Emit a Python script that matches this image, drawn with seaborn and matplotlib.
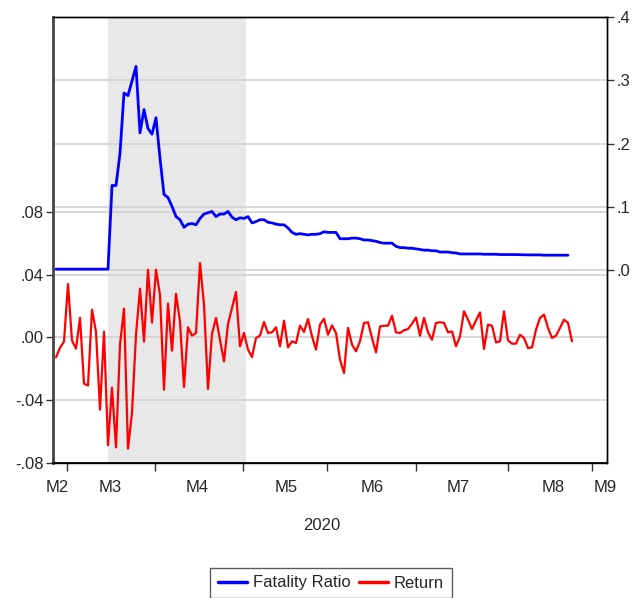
import numpy as np
import pandas as pd
import matplotlib
matplotlib.use("Agg")
import matplotlib.pyplot as plt
import matplotlib.transforms as mtransforms
import seaborn as sns

# ---------------- data ----------------
returns = [
    -0.0127, -0.0066, -0.0027, 0.034, -0.002, -0.0072, 0.0125, -0.0295, -0.0307, 0.0176,
    0.0036, -0.046, 0.0036, -0.0687, -0.032, -0.0701, -0.0046, 0.0183, -0.0709, -0.048,
    0.0017, 0.031, -0.0027, 0.0431, 0.0094, 0.0431, 0.027, -0.0333, 0.0215, -0.0085,
    0.0278, 0.010, -0.0316, 0.0064, 0.0011, 0.0028, 0.0474, 0.0208, -0.0329, 0.0022,
    0.0124, -0.0015, -0.0153, 0.0085, 0.0187, 0.0289, -0.0057, 0.0028, -0.0078, -0.0125,
    -0.0004, 0.0011, 0.0098, 0.0028, 0.0032, 0.0064, -0.0057, 0.0106, -0.0064, -0.0025,
    -0.0036, 0.0075, 0.0034, 0.0117, 0.0006, -0.0078, 0.0081, 0.0119, 0.0017, 0.0076,
    0.0028, -0.0142, -0.0227, 0.006, -0.0046, -0.0089, -0.0025, 0.0092, 0.0096, -0.0004,
    -0.0096, 0.007, 0.0074, 0.0074, 0.0138, 0.0032, 0.0028, 0.0045, 0.0053, 0.0087,
    0.0127, 0.0011, 0.0124, 0.0032, -0.0015, 0.0092, 0.0096, 0.0092, 0.0032, 0.0038,
    -0.0057, 0.0006, 0.0166, 0.0113, 0.0053, 0.0108, 0.0159, -0.0074, 0.0081, 0.0074,
    -0.0032, -0.0025, 0.0166, -0.0019, -0.004, -0.004, 0.0017, -0.0004, -0.0068, -0.0064,
    0.0049, 0.0124, 0.0145, 0.006, -0.0004, 0.0011, 0.006, 0.0113, 0.0092, -0.0025,
]

fatality_ratio = [
    0.002, 0.002, 0.002, 0.002, 0.002, 0.002, 0.002, 0.002, 0.002, 0.002,
    0.002, 0.002, 0.002, 0.002, 0.134, 0.134, 0.185, 0.280, 0.276, 0.299,
    0.322, 0.217, 0.254, 0.224, 0.215, 0.241, 0.177, 0.120, 0.115, 0.101,
    0.085, 0.080, 0.068, 0.073, 0.074, 0.072, 0.082, 0.089, 0.091, 0.093,
    0.085, 0.089, 0.089, 0.093, 0.084, 0.080, 0.083, 0.082, 0.085, 0.075,
    0.077, 0.080, 0.080, 0.076, 0.075, 0.073, 0.072, 0.072, 0.067, 0.060,
    0.057, 0.058, 0.057, 0.056, 0.057, 0.057, 0.058, 0.061, 0.060, 0.060,
    0.060, 0.050, 0.050, 0.050, 0.051, 0.051, 0.050, 0.048, 0.048, 0.047,
    0.046, 0.044, 0.043, 0.043, 0.043, 0.038, 0.036, 0.036, 0.035, 0.035,
    0.034, 0.033, 0.032, 0.032, 0.031, 0.031, 0.029, 0.029, 0.029, 0.028,
    0.0275, 0.026, 0.026, 0.026, 0.026, 0.026, 0.026, 0.0255, 0.0255, 0.0255,
    0.0255, 0.025, 0.025, 0.025, 0.025, 0.025, 0.0248, 0.0245, 0.0245, 0.0245,
    0.0245, 0.0245, 0.024, 0.024, 0.024, 0.024, 0.024, 0.024, 0.024, np.nan,
]

month_labels = ["M2", "M3", "M4", "M5", "M6", "M7", "M8", "M9"]
left_tick_values = [-0.08, -0.04, 0.00, 0.04, 0.08]
left_tick_labels = ["-.08", "-.04", ".00", ".04", ".08"]
right_tick_values = [0.0, 0.1, 0.2, 0.3, 0.4]
right_tick_labels = [".0", ".1", ".2", ".3", ".4"]
year_label = "2020"
series_names = ["Fatality Ratio", "Return"]

df = pd.DataFrame({
    "obs": np.arange(len(returns)),
    "Return": returns,
    "Fatality Ratio": fatality_ratio,
})

# ---------------- styling ----------------
sns.set_style("white")
plt.rcParams["font.family"] = ["Liberation Sans", "DejaVu Sans"]
FS = 12
plt.rcParams["font.size"] = FS

W, H = 639, 598
fig = plt.figure(figsize=(W / 100, H / 100), dpi=100)
L, R, T, B = 53, 607, 17, 463
ax = fig.add_axes([L / W, 1 - B / H, (R - L) / W, (B - T) / H])
ax2 = ax.twinx()

# ax2 underneath (shading, grid, blue), ax on top (red)
ax.set_zorder(2)
ax2.set_zorder(1)
ax.patch.set_visible(False)
ax2.patch.set_visible(True)
ax2.patch.set_facecolor("white")

ax.set_xlim(-0.75, 137.75)
ax.set_ylim(-0.08, 0.204)
ax2.set_ylim(-0.304, 0.40)

# shaded period
ax2.axvspan(13.1, 47.4, color="#e8e8e8", lw=0, zorder=0)

# gridlines for both scales
grid_kw = dict(color="#d4d4d4", lw=1.3, zorder=1)
tr_left = mtransforms.blended_transform_factory(ax2.transAxes, ax.transData)
tr_right = mtransforms.blended_transform_factory(ax2.transAxes, ax2.transData)
for v in left_tick_values[1:]:
    ax2.plot([0, 1], [v, v], transform=tr_left, **grid_kw)
for v in right_tick_values[:-1]:
    ax2.plot([0, 1], [v, v], transform=tr_right, **grid_kw)

sns.lineplot(data=df, x="obs", y="Fatality Ratio", ax=ax2, color="#0000ff",
             lw=2.0, label=series_names[0], legend=False, zorder=3)
sns.lineplot(data=df, x="obs", y="Return", ax=ax, color="#ff0000",
             lw=1.6, label=series_names[1], legend=False, zorder=3)

# axes labels / ticks
ax.set_xlabel("")
ax.set_ylabel("")
ax2.set_ylabel("")

ax.set_yticks(left_tick_values)
ax.set_yticklabels(left_tick_labels)
ax2.set_yticks(right_tick_values)
ax2.set_yticklabels(right_tick_labels)

ax.tick_params(axis="y", which="major", left=True, length=5, width=1,
               color="#333333", pad=2, labelsize=FS)
ax2.tick_params(axis="y", which="major", right=True, length=5, width=1,
                color="#333333", pad=2, labelsize=FS)

# x: tick marks between month labels, labels placed as minor ticks
ax.set_xticks([2.75, 24.75, 46.75, 67.75, 90, 113, 134])
ax.set_xticklabels([""] * 7)
ax.set_xticks([0.25, 13.5, 35.25, 57.5, 79, 100.5, 124.25, 137.25], minor=True)
ax.set_xticklabels(month_labels, minor=True)
ax.tick_params(axis="x", which="major", bottom=True, length=6, width=1,
               color="#333333")
ax.tick_params(axis="x", which="minor", bottom=True, length=0, pad=12,
               labelsize=FS)
ax2.tick_params(axis="x", which="both", bottom=False, labelbottom=False)

for a in (ax, ax2):
    for s in a.spines.values():
        s.set_color("black")
        s.set_linewidth(1.0)
ax.spines["left"].set_color("#444444")
ax.spines["left"].set_linewidth(2.0)
ax.spines["bottom"].set_linewidth(1.3)
ax2.spines["left"].set_visible(False)

fig.text(322 / W, 1 - 526 / H, year_label, ha="center", va="center", fontsize=FS)

h1, l1 = ax2.get_legend_handles_labels()
h2, l2 = ax.get_legend_handles_labels()
leg = fig.legend(h1 + h2, l1 + l2, loc="center",
                 bbox_to_anchor=(331 / W, 1 - 583 / H), ncol=2, frameon=True,
                 fancybox=False, shadow=False, fontsize=FS, handlelength=1.75,
                 handletextpad=0.35, columnspacing=0.5, borderpad=0.45,
                 borderaxespad=0)
leg.get_frame().set_edgecolor("#333333")
leg.get_frame().set_linewidth(1.0)
for line in leg.get_lines():
    line.set_linewidth(2.5)

fig.savefig("out.png", dpi=100)
